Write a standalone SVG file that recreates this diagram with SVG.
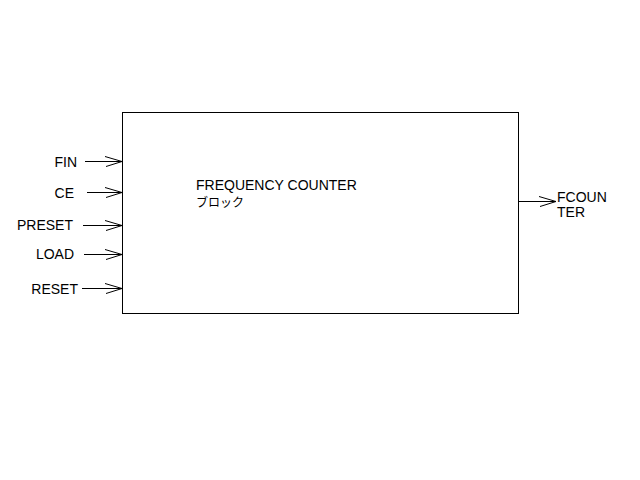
<svg xmlns="http://www.w3.org/2000/svg" width="640" height="480" viewBox="0 0 640 480">
<style>
.t{font-family:"Liberation Sans",Arial,"Noto Sans CJK JP",sans-serif;font-size:14px;fill:#000}
.j{font-family:"Noto Sans CJK JP","Liberation Sans",sans-serif;font-size:12px;fill:#000}
.ln{stroke:#000;stroke-width:1;fill:none}
</style>
<defs>
<marker id="ah" viewBox="0 0 18 12" refX="17" refY="6" markerWidth="18" markerHeight="12" markerUnits="userSpaceOnUse" orient="auto">
<path d="M0,1 L17,6 L1,11" fill="none" stroke="#000" stroke-width="1"/>
</marker>
</defs>
<rect width="640" height="480" fill="#fff"/>
<g id="block">
<rect class="ln" x="122.5" y="112.5" width="396" height="201"/>
<text class="t" x="196" y="190">FREQUENCY COUNTER</text>
<text class="j" x="196" y="207">ブロック</text>
</g>
<g id="FIN"><text class="t" x="77" y="167" text-anchor="end">FIN</text></g>
<g id="CE"><text class="t" x="74" y="198" text-anchor="end">CE</text></g>
<g id="PRESET"><text class="t" x="73" y="230" text-anchor="end">PRESET</text></g>
<g id="LOAD"><text class="t" x="74" y="259" text-anchor="end">LOAD</text></g>
<g id="RESET"><text class="t" x="78" y="294" text-anchor="end">RESET</text></g>
<g id="FCOUNTER"><text class="t" x="557" y="202">FCOUN</text><text class="t" x="557" y="217">TER</text></g>
<g id="connectors">
<line class="ln" x1="85" y1="161.5" x2="122" y2="161.5" marker-end="url(#ah)"/>
<line class="ln" x1="87" y1="192.5" x2="122" y2="192.5" marker-end="url(#ah)"/>
<line class="ln" x1="83" y1="225.5" x2="122" y2="225.5" marker-end="url(#ah)"/>
<line class="ln" x1="84" y1="254.5" x2="122" y2="254.5" marker-end="url(#ah)"/>
<line class="ln" x1="82" y1="288.5" x2="122" y2="288.5" marker-end="url(#ah)"/>
<line class="ln" x1="519" y1="201.5" x2="556" y2="201.5" marker-end="url(#ah)"/>
</g>
</svg>
